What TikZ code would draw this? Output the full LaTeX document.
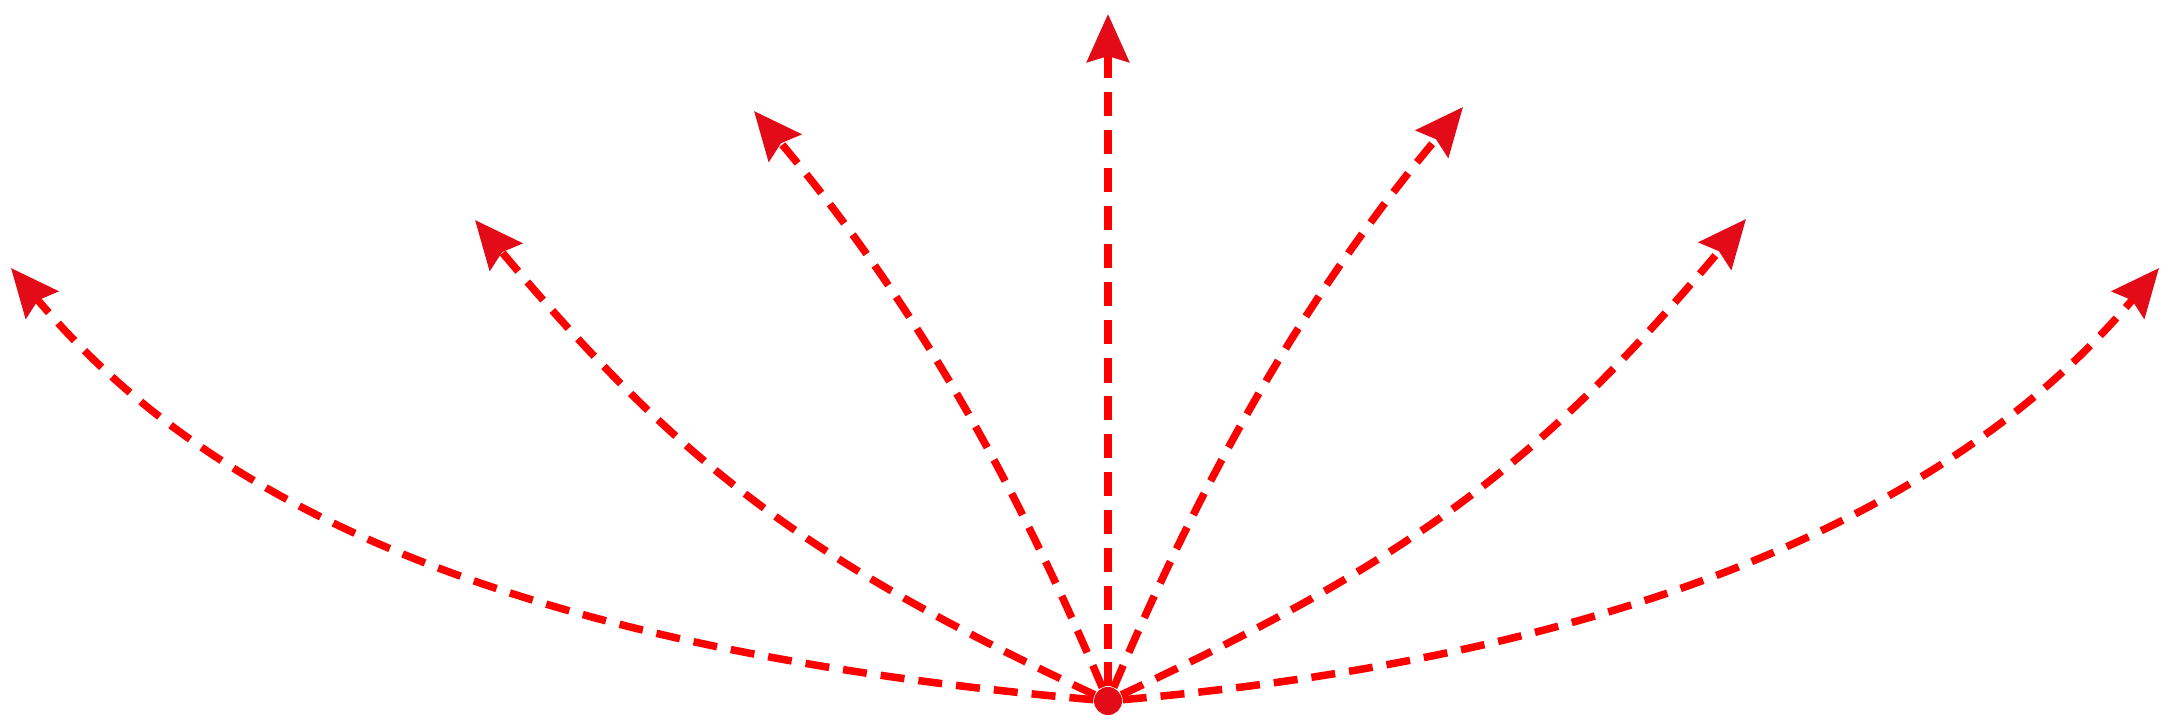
\documentclass[tikz,border=0pt]{standalone}
\usetikzlibrary{arrows.meta}
\definecolor{tipred}{RGB}{227,11,23}
\begin{document}
\begin{tikzpicture}[x=0.01cm, y=0.01cm,
        ray/.style={red, line width=0.075cm, dash pattern=on 0.24cm off 0.14cm,
            -{Stealth[length=0.48cm, width=0.42cm, inset=0.06cm, color=tipred]}},
        hub/.style={circle, fill=tipred, inner sep=0pt, minimum size=0.28cm}]
        \useasboundingbox (0,0) rectangle (2170,725);
        \node[hub] (o) at (1108,24) {};
        \coordinate (l1) at (11,457);
        \coordinate (l2) at (475,505);
        \coordinate (l3) at (754,614);
        \coordinate (v) at (1108,711);
        \coordinate (r3) at (1463,618);
        \coordinate (r2) at (1746,506);
        \coordinate (r1) at (2159,457);
        \foreach \t/\a/\b/\p/\q in {l1/175/-50/6cm/3cm, l2/155/-50/3.2cm/3.2cm, l3/113/-50/2.4cm/2.4cm, v/90/-90/2cm/2cm, r3/67/230/2.4cm/2.4cm, r2/25/230/3.2cm/3.2cm, r1/5/230/5.6cm/2.8cm}
        {%
            \draw[ray] (o) to[out=\a, in=\b, out distance=\p, in distance=\q] (\t);
        }%
    \end{tikzpicture}
\end{document}
